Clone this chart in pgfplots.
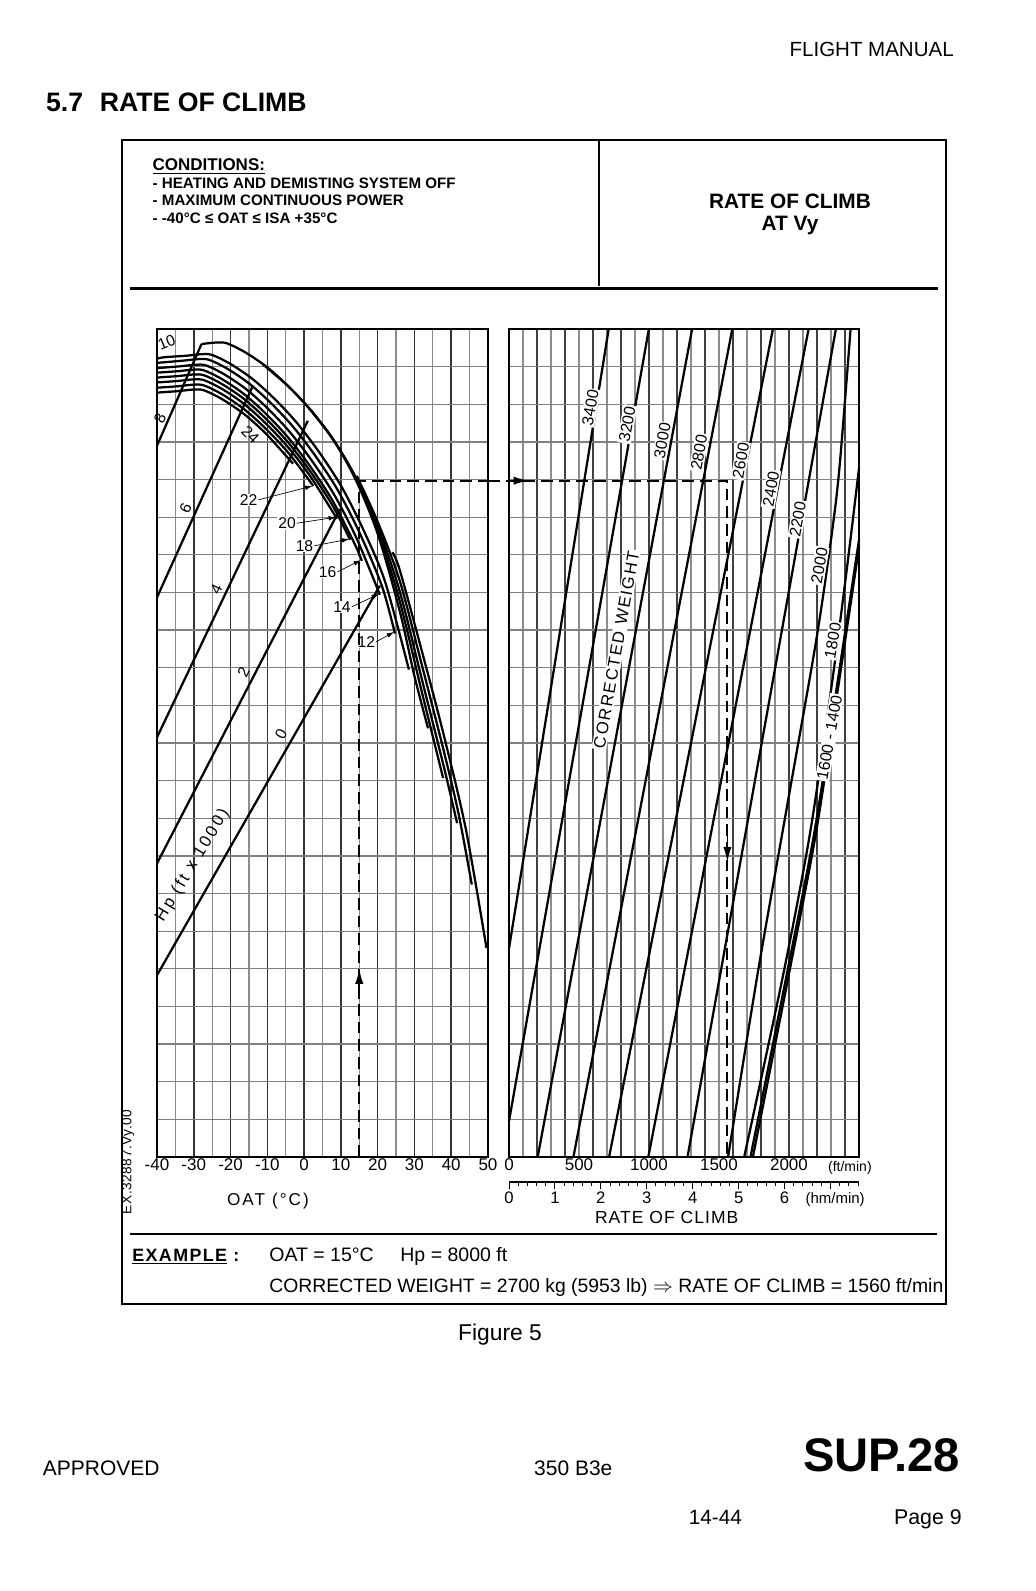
\documentclass[border=0pt]{standalone}
\usepackage{fontspec}
\setmainfont{Liberation Sans}
\usepackage{pgfplots}
\pgfplotsset{compat=1.18}
\usetikzlibrary{arrows.meta}

\pgfplotsset{
  chart/.style={
    scale only axis, anchor=south west, clip=false,
    ymin=0, ymax=22, ytick={0,1,...,22}, yticklabels={},
    grid=both, major tick length=0pt, minor tick length=0pt,
    major y grid style={black!50, line width=0.75pt},
    axis line style={line width=1.1pt},
    xticklabel style={font=\fontsize{10.2}{11}\selectfont, inner sep=1pt},
  },
  curve/.style={black, line width=1.35pt},
}
\tikzset{
  ex/.style={black, line width=1.3pt, dash pattern=on 7pt off 3.6pt},
  lab/.style={font=\fontsize{9.4}{10}\selectfont, inner sep=0.5pt},
  arr/.style={line width=0.4pt, -{Latex[length=4.5pt,width=2.8pt]}},
  wlab/.style={font=\fontsize{9.6}{10}\selectfont, rotate=80, inner sep=0.8pt, fill=white},
  rl/.style={anchor=base, font=\fontsize{10}{11}\selectfont, inner sep=0, yshift=-12.7pt},
}

\begin{document}
\begin{tikzpicture}
\begin{scope}[x=0.6pt,y=-0.6pt]
  \path (0,0) rectangle (1035,1591);
  % page header
  \node[anchor=base east, font=\fontsize{12.3}{14}\selectfont, inner sep=0] at (954,56.8) {FLIGHT MANUAL};
  \node[anchor=base west, font=\bfseries\fontsize{16}{18}\selectfont, inner sep=0] at (45.7,112) {5.7\hspace{10pt}RATE OF CLIMB};
  % frame
  \draw[line width=1.2pt] (121.5,140) rectangle (946,1304);
  \draw[line width=1.2pt] (598.5,140) -- (598.5,286);
  \draw[line width=1.4pt] (130,288.5) -- (938,288.5);
  \draw[line width=1.4pt] (130,1234) -- (937,1234);
  % conditions
  \node[anchor=base west, font=\bfseries\fontsize{10.2}{12}\selectfont, inner sep=0] at (152.3,170.7) {\underline{CONDITIONS:}};
  \begin{scope}[every node/.style={anchor=base west, font=\bfseries\fontsize{9.1}{10}\selectfont, inner sep=0}]
    \node at (152.3,188.3) {- HEATING AND DEMISTING SYSTEM OFF};
    \node at (152.3,205.7) {- MAXIMUM CONTINUOUS POWER};
    \node at (152.3,223.3) {- -40°C ≤ OAT ≤ ISA +35°C};
  \end{scope}
  \node[anchor=base, font=\bfseries\fontsize{12.5}{14}\selectfont, inner sep=0] at (790,208.3) {RATE OF CLIMB};
  \node[anchor=base, font=\bfseries\fontsize{12.5}{14}\selectfont, inner sep=0] at (790,230.7) {AT Vy};
  % axis titles
  \node[anchor=base, font=\fontsize{10.3}{12}\selectfont\addfontfeatures{LetterSpace=12}, inner sep=0] at (268,1205.5) {OAT (°C)};
  \node[anchor=base, font=\fontsize{10.5}{12}\selectfont\addfontfeatures{LetterSpace=6}, inner sep=0] at (666.7,1223.7) {RATE OF CLIMB};
  \node[rotate=90, font=\fontsize{8.2}{9}\selectfont\addfontfeatures{LetterSpace=4}, inner sep=0] at (128,1162) {EX.32887.Vy.00};
  % example
  \node[anchor=base west, font=\bfseries\fontsize{10.7}{12}\selectfont\addfontfeatures{LetterSpace=8}, inner sep=0] at (132,1261.3) {\underline{EXAMPLE} :};
  \node[anchor=base west, font=\fontsize{11.7}{13}\selectfont, inner sep=0] at (269,1261.3) {OAT = 15°C\hspace{16pt}Hp = 8000 ft};
  \node[anchor=base west, font=\fontsize{11.62}{13}\selectfont, inner sep=0] at (269,1292.7) {CORRECTED WEIGHT = 2700 kg (5953 lb) $\Rightarrow$ RATE OF CLIMB = 1560 ft/min};
  % page footer
  \node[anchor=base, font=\fontsize{13.7}{15}\selectfont, inner sep=0] at (500,1340.4) {Figure 5};
  \node[anchor=base west, font=\fontsize{12.6}{14}\selectfont, inner sep=0] at (42.6,1475.4) {APPROVED};
  \node[anchor=base, font=\fontsize{12.6}{14}\selectfont, inner sep=0] at (573.3,1475.4) {350 B3e};
  \node[anchor=base east, font=\bfseries\fontsize{28.3}{32}\selectfont, inner sep=0] at (960,1471.3) {SUP.28};
  \node[anchor=base, font=\fontsize{12.4}{14}\selectfont, inner sep=0] at (715.4,1524) {14-44};
  \node[anchor=base east, font=\fontsize{12.8}{14}\selectfont, inner sep=0] at (962,1524) {Page 9};
\end{scope}

% ---------------- left chart: OAT / Hp ----------------
\begin{axis}[chart,
  at={(94.2pt,-694.2pt)}, width=198.6pt, height=496.8pt,
  xmin=-40, xmax=50,
  xtick={-40,-30,...,50}, xticklabels={-40,-30,-20,-10,0,10,20,30,40,50},
  minor x tick num=1,
  major x grid style={black!80, line width=0.9pt},
  minor x grid style={black!45, line width=0.7pt},
]
  % Hp 0 ... 8 : rising lines
  \addplot[curve] coordinates {(-40,4.83) (20.6,15.18)};
  \addplot[curve] coordinates {(-40,7.80) (9.75,17.22)};
  \addplot[curve] coordinates {(-40,11.15) (1.0,19.56)};
  \addplot[curve] coordinates {(-40,14.87) (-13.9,20.50)};
  \addplot[curve] coordinates {(-40,18.90) (-27.9,21.60)};
  % Hp 0 ... 8 : limiting curves
  \addplot[curve, smooth] coordinates {(24,16.07) (26,15.60) (32,13.45) (38,11.20) (44,8.70) (49.6,5.55)};
  \addplot[curve, smooth] coordinates {(14.3,18.10) (20,16.88) (26,15.31) (32,13.08) (38,10.78) (42,9.12) (45.6,7.24)};
  \addplot[curve, smooth] coordinates {(2,19.82) (8,19.05) (14,18.07) (20,16.77) (26,15.03) (32,12.7) (38,10.37) (41.6,8.87)};
  \addplot[curve, smooth] coordinates {(-11.2,21.06) (-4,20.45) (2,19.82) (8,19.05) (14,18.04) (20,16.66) (26,14.77) (32,12.36) (37.8,10.07)};
  \addplot[curve, smooth] coordinates {(-27.9,21.60) (-24,21.64) (-21,21.62) (-16,21.38) (-10,20.98) (-4,20.45) (2,19.82) (8,19.05) (14,18.0) (20,16.56) (26,14.51) (30,12.78) (33.7,11.39)};
  % Hp 10 ... 24
  \addplot[curve, smooth] coordinates {(-40,21.21) (-38,21.25) (-32,21.29) (-28,21.33) (-25,21.31) (-20,21.07) (-14,20.67) (-8,20.14) (-2,19.51) (4,18.74) (10,17.84) (16,16.69) (22,15.29) (28.5,12.95)};
  \addplot[curve, smooth] coordinates {(-40,21.10) (-32.8,21.16) (-28.8,21.20) (-25.8,21.18) (-20.8,20.94) (-14.8,20.54) (-8.8,20.01) (-2.8,19.38) (3.2,18.61) (9.2,17.71) (15.2,16.56) (21.2,15.16) (24.7,13.91)};
  \addplot[curve, smooth] coordinates {(-40,20.96) (-33.6,21.01) (-29.6,21.05) (-26.6,21.03) (-21.6,20.79) (-15.6,20.39) (-9.6,19.86) (-3.6,19.23) (2.4,18.46) (8.4,17.56) (14.4,16.41) (20.6,14.94)};
  \addplot[curve, smooth] coordinates {(-40,20.84) (-34.2,20.88) (-30.2,20.92) (-27.2,20.90) (-22.2,20.66) (-16.2,20.26) (-10.2,19.73) (-4.2,19.10) (1.8,18.33) (7.8,17.43) (13.8,16.28) (15.7,15.84)};
  \addplot[curve, smooth] coordinates {(-40,20.71) (-34.2,20.75) (-30.2,20.79) (-27.2,20.77) (-22.2,20.53) (-16.2,20.13) (-10.2,19.60) (-4.2,18.97) (1.8,18.20) (7.8,17.30) (12.5,16.40)};
  \addplot[curve, smooth] coordinates {(-40,20.58) (-34.2,20.62) (-30.2,20.66) (-27.2,20.64) (-22.2,20.40) (-16.2,20.00) (-10.2,19.47) (-4.2,18.84) (1.8,18.07) (8.9,16.96)};
  \addplot[curve, smooth] coordinates {(-40,20.44) (-34.2,20.48) (-30.2,20.52) (-27.2,20.50) (-22.2,20.26) (-16.2,19.86) (-10.2,19.33) (-4.2,18.70) (2.5,17.83)};
  \addplot[curve, smooth] coordinates {(-40,20.31) (-34.2,20.35) (-30.2,20.39) (-27.2,20.37) (-22.2,20.13) (-16.2,19.73) (-10.2,19.20) (-3,18.42)};
  % labels
  \node[lab, rotate=22] at (axis cs:-37.4,21.64) {10};
  \node[lab, rotate=66] at (axis cs:-39.2,19.62) {8};
  \node[lab, rotate=65] at (axis cs:-32.2,17.24) {6};
  \node[lab, rotate=64] at (axis cs:-23.9,15.09) {4};
  \node[lab, rotate=63] at (axis cs:-16.5,12.88) {2};
  \node[lab, rotate=61] at (axis cs:-6.3,11.24) {0};
  \node[lab, rotate=59, font=\fontsize{10}{11}\selectfont\addfontfeatures{LetterSpace=16}] at (axis cs:-30.3,7.75) {Hp (ft x 1000)};
  \node[lab, rotate=-45] at (axis cs:-14.6,19.2) {24};
  \node[lab, fill=white] (l22) at (axis cs:-15.1,17.46) {22};
  \node[lab, fill=white] (l20) at (axis cs:-4.65,16.84) {20};
  \node[lab, fill=white] (l18) at (axis cs:0.1,16.24) {18};
  \node[lab, fill=white] (l16) at (axis cs:6.4,15.55) {16};
  \node[lab, fill=white] (l14) at (axis cs:10.3,14.62) {14};
  \node[lab, fill=white] (l12) at (axis cs:16.9,13.69) {12};
  \draw[arr] (l22.east) -- (axis cs:2.3,17.83);
  \draw[arr] (l20.east) -- (axis cs:8.7,17.0);
  \draw[arr] (l18.east) -- (axis cs:12.3,16.42);
  \draw[arr] (l16.east) -- (axis cs:15.5,15.86);
  \draw[arr] (l14.east) -- (axis cs:20.4,14.96);
  \draw[arr] (l12.east) -- (axis cs:24.5,13.95);
  % example
  \draw[ex] (axis cs:15,0) -- (axis cs:15,17.97) -- (axis cs:50,17.97);
  \draw[line width=1pt, -{Latex[length=9pt,width=5pt]}] (axis cs:15,4.2) -- (axis cs:15,5.0);
\end{axis}

% ---------------- right chart: corrected weight ----------------
\begin{axis}[chart,
  at={(305.4pt,-694.2pt)}, width=210pt, height=496.8pt,
  xmin=0, xmax=2500,
  xtick={0,200,...,2400}, xticklabels={},
  minor x tick num=1,
  major x grid style={black!75, line width=0.85pt},
  minor x grid style={black!45, line width=0.65pt},
  extra x ticks={0,500,1000,1500,2000},
  extra x tick labels={0,500,1000,1500,2000},
  extra x tick style={grid=none},
]
  \addplot[curve] coordinates {(0,5.54) (712,22)};
  \addplot[curve] coordinates {(0,0.95) (999,22)};
  \addplot[curve] coordinates {(205,0) (1308,22)};
  \addplot[curve] coordinates {(460,0) (1595,22)};
  \addplot[curve] coordinates {(715,0) (1885,22)};
  \addplot[curve] coordinates {(995,0) (2140,22)};
  \addplot[curve] coordinates {(1275,0) (2335,22)};
  \addplot[curve, smooth] coordinates {(1565,0) (1776,4.87) (1990,9.4) (2194,13.72) (2300,16.4) (2360,18.3) (2440,22)};
  \addplot[curve, smooth] coordinates {(1680,0) (1960,4.87) (2150,8.6) (2300,12.4) (2409,15.5) (2500,18.3)};
  \addplot[curve, smooth] coordinates {(1725,0) (1985,4.87) (2180,8.6) (2342,12.5) (2500,16.4)};
  \addplot[curve, smooth] coordinates {(1742,0) (2000,4.87) (2192,8.6) (2352,12.5) (2500,16.2)};
  % weight labels
  \node[wlab] at (axis cs:581,19.91) {3400};
  \node[wlab] at (axis cs:844,19.47) {3200};
  \node[wlab] at (axis cs:1095,19.03) {3000};
  \node[wlab] at (axis cs:1357,18.72) {2800};
  \node[wlab] at (axis cs:1656,18.50) {2600};
  \node[wlab] at (axis cs:1871,17.75) {2400};
  \node[wlab] at (axis cs:2062,16.95) {2200};
  \node[wlab] at (axis cs:2217,15.71) {2000};
  \node[wlab] at (axis cs:2313,13.72) {1800};
  \node[wlab] at (axis cs:2289,11.15) {1600 - 1400};
  \node[wlab, font=\fontsize{10}{11}\selectfont\addfontfeatures{LetterSpace=10}] at (axis cs:767,13.48) {CORRECTED WEIGHT};
  \node[anchor=base, font=\fontsize{8.4}{9}\selectfont, inner sep=0, yshift=-8.5pt] at (axis cs:2435,0) {(ft/min)};
  % example
  \draw[ex] (axis cs:-150,17.97) -- (axis cs:1560,17.97) -- (axis cs:1560,0);
  \draw[line width=1pt, -{Latex[length=9pt,width=5pt]}] (axis cs:20,17.97) -- (axis cs:140,17.97);
  \draw[line width=1pt, -{Latex[length=9pt,width=5pt]}] (axis cs:1560,8.6) -- (axis cs:1560,7.84);
\end{axis}

% ---------------- hm/min ruler ----------------
\begin{axis}[
  at={(305.4pt,-709.2pt)}, anchor=south west, scale only axis,
  width=210pt, height=1pt, xmin=0, xmax=7.62, ymin=0, ymax=1,
  hide y axis, axis x line*=bottom,
  axis line style={line width=1.5pt},
  xtick={0,1,2,3,4,5,6,7}, xticklabels={},
  minor xtick={0.2,0.4,0.6,0.8,1.2,1.4,1.6,1.8,2.2,2.4,2.6,2.8,3.2,3.4,3.6,3.8,4.2,4.4,4.6,4.8,5.2,5.4,5.6,5.8,6.2,6.4,6.6,6.8,7.2,7.4,7.6},
  tick align=outside, major tick length=4.5pt, minor tick length=2.6pt,
  tick style={black, line width=0.6pt},
  clip=false,
]
  \node[rl] at (axis cs:0,0) {0};
  \node[rl] at (axis cs:1,0) {1};
  \node[rl] at (axis cs:2,0) {2};
  \node[rl] at (axis cs:3,0) {3};
  \node[rl] at (axis cs:4,0) {4};
  \node[rl] at (axis cs:5,0) {5};
  \node[rl] at (axis cs:6,0) {6};
  \node[rl, font=\fontsize{9}{10}\selectfont] at (axis cs:7.1,0) {(hm/min)};
\end{axis}
\end{tikzpicture}
\end{document}
